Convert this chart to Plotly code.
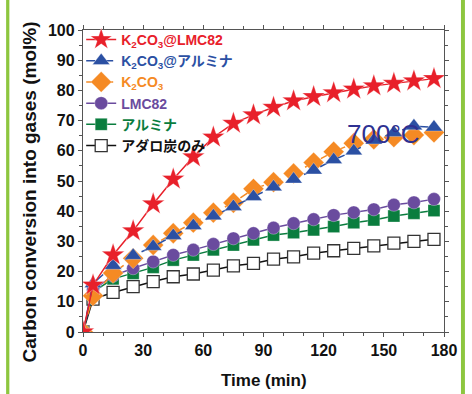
import plotly.graph_objects as go

# Sampling times (min)
time_min = [0, 5, 15, 25, 35, 45, 55, 65, 75, 85, 95, 105, 115, 125, 135, 145, 155, 165, 175]

# Carbon conversion into gases (mol%)
k2co3_lmc82 = [0, 15.5, 25.5, 33.5, 42.4, 50.6, 58.0, 64.5, 69.1, 71.9, 74.4, 76.5, 77.9, 79.2, 80.4, 81.5, 82.3, 83.1, 83.9]
k2co3_alumina = [0, 16.0, 22.0, 25.3, 28.3, 31.9, 35.2, 38.4, 41.5, 44.8, 48.0, 50.6, 53.6, 57.0, 59.9, 63.5, 66.0, 68.2, 67.8]
k2co3 = [0, 12.0, 19.5, 24.4, 28.8, 32.7, 36.2, 39.5, 42.8, 47.4, 49.6, 52.5, 56.1, 59.7, 62.5, 63.8, 64.5, 65.2, 66.1]
lmc82 = [0, 14.0, 18.6, 21.1, 23.3, 25.5, 27.2, 29.1, 31.0, 32.7, 34.5, 36.0, 37.3, 38.7, 39.6, 40.6, 42.1, 42.9, 44.0]
alumina = [0, 13.3, 17.6, 19.4, 21.4, 23.8, 25.5, 27.2, 28.8, 30.5, 32.1, 32.9, 33.8, 34.9, 36.2, 37.1, 38.4, 39.3, 40.2]
adaro_only = [0, 10.9, 13.1, 15.0, 16.7, 18.3, 19.2, 20.5, 21.9, 22.7, 24.1, 24.9, 26.1, 26.9, 27.7, 28.5, 29.4, 30.0, 30.7]

series_names = [
    "K<sub>2</sub>CO<sub>3</sub>@LMC82",
    "K<sub>2</sub>CO<sub>3</sub>@アルミナ",
    "K<sub>2</sub>CO<sub>3</sub>",
    "LMC82",
    "アルミナ",
    "アダロ炭のみ",
]

x_ticks = [0, 30, 60, 90, 120, 150, 180]
y_ticks = list(range(0, 101, 10))

NUM_FONT = "Liberation Sans, Arial"
TXT_FONT = "Liberation Sans, Arial, Noto Sans CJK JP"

styles = [
    dict(data=k2co3_lmc82, color="#e8202a", symbol="star", size=17, dash="solid", fill="#e8202a"),
    dict(data=k2co3_alumina, color="#2b50a3", symbol="triangle-up", size=15, dash="dash", fill="#2b50a3"),
    dict(data=k2co3, color="#f58a24", symbol="diamond", size=16, dash="dash", fill="#f58a24"),
    dict(data=lmc82, color="#6a4b9e", symbol="circle", size=13, dash="solid", fill="#6a4b9e"),
    dict(data=alumina, color="#0a7d3e", symbol="square", size=12, dash="solid", fill="#0a7d3e"),
    dict(data=adaro_only, color="#111111", symbol="square", size=12, dash="solid", fill="#ffffff"),
]

fig = go.Figure()
# draw back-to-front so the top series sit over the lower ones
order = [5, 4, 3, 2, 1, 0]
for i in order:
    s = styles[i]
    fig.add_trace(go.Scatter(
        x=time_min, y=s["data"],
        name=f'<span style="color:{s["color"]}">{series_names[i]}</span>',
        mode="lines+markers",
        line=dict(color=s["color"], width=1.5, dash=s["dash"]),
        marker=dict(symbol=s["symbol"], size=s["size"], color=s["fill"],
                    line=dict(color="#333333" if i == 5 else "rgba(255,255,255,0.6)",
                              width=1.3 if i == 5 else 0.5)),
        legendrank=i + 1,
        cliponaxis=True,
    ))

annotations = [
    dict(text="Time (min)", x=0.5, y=-0.162, xref="paper", yref="paper",
         xanchor="center", yanchor="middle", showarrow=False,
         font=dict(family=TXT_FONT, size=17, color="#111111", weight="bold")),
    dict(text="Carbon conversion into gases (mol%)", x=-0.147, y=0.465, xref="paper", yref="paper",
         xanchor="center", yanchor="middle", showarrow=False, textangle=-90,
         font=dict(family=TXT_FONT, size=19, color="#111111", weight="bold")),
    dict(text="700°C", x=150, y=65.5, xref="x", yref="y", showarrow=False,
         xanchor="center", yanchor="middle",
         font=dict(family=NUM_FONT, size=26, color="#2e3192")),
]

shapes = [
    dict(type="rect", xref="paper", yref="paper", x0=-0.213, x1=-0.204, y0=-0.21, y1=1.11,
         fillcolor="#8dc63f", line=dict(width=0), layer="below"),
    dict(type="rect", xref="paper", yref="paper", x0=1.047, x1=1.058, y0=-0.21, y1=1.11,
         fillcolor="#8dc63f", line=dict(width=0), layer="below"),
]

axis_common = dict(
    showline=True, linecolor="#555555", linewidth=1.3, mirror="ticks",
    ticks="outside", ticklen=4, tickwidth=1, tickcolor="#555555",
    showgrid=False, zeroline=False,
    tickfont=dict(family=NUM_FONT, size=16, color="#111111", weight="bold"),
)

fig.update_layout(
    width=472, height=394,
    margin=dict(l=83, r=28, t=30, b=62),
    paper_bgcolor="white", plot_bgcolor="white",
    showlegend=True,
    legend=dict(x=-0.005, y=1.02, xanchor="left", yanchor="top", bgcolor="rgba(0,0,0,0)",
                traceorder="normal", itemwidth=30, tracegroupgap=0,
                font=dict(family=NUM_FONT + ", Noto Sans CJK JP", size=14, weight="bold")),
    xaxis=dict(range=[0, 180], tickvals=x_ticks, ticktext=[str(v) for v in x_ticks],
               minor=dict(dtick=10, tick0=0, ticks="outside", ticklen=3, tickcolor="#555555"),
               **axis_common),
    yaxis=dict(range=[0, 100], tickvals=y_ticks, ticktext=[str(v) for v in y_ticks],
               minor=dict(dtick=5, tick0=0, ticks="outside", ticklen=3, tickcolor="#555555"),
               **axis_common),
    annotations=annotations,
    shapes=shapes,
)

fig.write_html("out.html")
